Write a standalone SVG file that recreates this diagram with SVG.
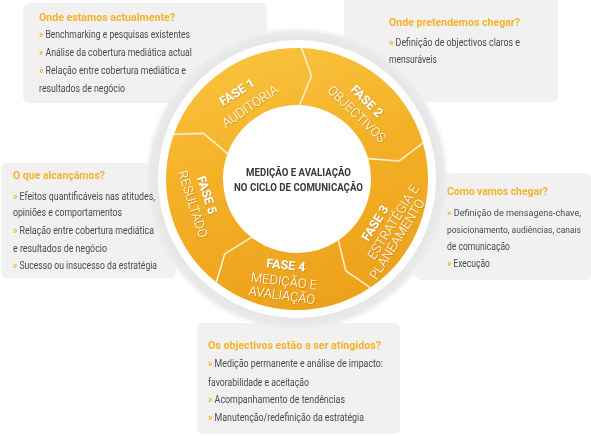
<svg xmlns="http://www.w3.org/2000/svg" width="591" height="436" viewBox="0 0 591 436">
<defs>
<style>
.box{fill:#f1f1f1;}
.t{font-family:Roboto,"Liberation Sans",sans-serif;font-weight:bold;font-size:11px;fill:#f6b22a;}
.b{font-family:Roboto,"Liberation Sans",sans-serif;font-size:10px;fill:#4a4a4a;}
.s{font-size:9px;}
.g{fill:#f4ae25;font-weight:bold;}
.seg{fill:url(#gold);}
.div{fill:none;stroke:#fbeed2;stroke-width:1.6;stroke-linejoin:round;}
.pf{font-family:Roboto,"Liberation Sans",sans-serif;font-weight:bold;font-size:12.5px;fill:#fff;text-anchor:middle;}
.pl{font-family:Roboto,"Liberation Sans",sans-serif;font-weight:300;font-size:13px;fill:#fff;text-anchor:middle;}
.c{font-family:Roboto,"Liberation Sans",sans-serif;font-weight:bold;font-size:10px;fill:#383838;text-anchor:middle;}
</style>
<linearGradient id="gold" gradientUnits="userSpaceOnUse" x1="260" y1="48" x2="330" y2="310">
<stop offset="0" stop-color="#f9c23c"/>
<stop offset="0.5" stop-color="#f3ae24"/>
<stop offset="1" stop-color="#eca11a"/>
</linearGradient>
<radialGradient id="halo" gradientUnits="userSpaceOnUse" cx="297" cy="179" r="153">
<stop offset="0.88" stop-color="#e4e4e4"/>
<stop offset="0.96" stop-color="#eaeaea"/>
<stop offset="1" stop-color="#f3f3f3" stop-opacity="0"/>
</radialGradient>
<filter id="sh" x="-20%" y="-20%" width="140%" height="140%">
<feDropShadow dx="0.6" dy="0.8" stdDeviation="0.6" flood-color="#9a6200" flood-opacity="0.55"/>
</filter>
</defs>

<rect width="591" height="436" fill="#ffffff"/>

<g id="box-auditoria">
<rect class="box" x="23" y="3" width="244" height="100" rx="6"/>
</g>
<g id="box-objectivos">
<rect class="box" x="344" y="-6" width="214" height="108" rx="6"/>
</g>
<g id="box-resultado">
<rect class="box" x="1" y="163" width="175" height="115" rx="6"/>
</g>
<g id="box-estrategia">
<rect class="box" x="415" y="173" width="176" height="107" rx="6"/>
</g>
<g id="box-medicao">
<rect class="box" x="197" y="323" width="203" height="111" rx="6"/>
</g>

<g id="ring-back">
<circle cx="297" cy="179" r="153" fill="url(#halo)"/>
<circle cx="297" cy="179" r="139" fill="#ffffff"/>
</g>

<g id="phase-1">
<path class="seg" d="M 173.90 134.20 A 131 131 0 0 1 301.57 48.08 L 311.47 76.01 L 299.58 105.05 A 74 74 0 0 0 227.46 153.69 L 203.52 133.41 Z"/>
</g>
<g id="phase-2">
<path class="seg" d="M 301.57 48.08 A 131 131 0 0 1 422.93 142.89 L 399.42 160.94 L 368.13 158.60 A 74 74 0 0 0 299.58 105.05 L 311.47 76.01 Z"/>
</g>
<g id="phase-3">
<path class="seg" d="M 422.93 142.89 A 131 131 0 0 1 370.25 287.60 L 345.83 270.83 L 338.38 240.35 A 74 74 0 0 0 368.13 158.60 L 399.42 160.94 Z"/>
</g>
<g id="phase-4">
<path class="seg" d="M 370.25 287.60 A 131 131 0 0 1 216.35 282.23 L 224.76 253.81 L 251.44 237.31 A 74 74 0 0 0 338.38 240.35 L 345.83 270.83 Z"/>
</g>
<g id="phase-5">
<path class="seg" d="M 216.35 282.23 A 131 131 0 0 1 173.90 134.20 L 203.52 133.41 L 227.46 153.69 A 74 74 0 0 0 251.44 237.31 L 224.76 253.81 Z"/>
</g>

<g id="connectors">
<path class="div" d="M 301.57 48.08 L 311.47 76.01 L 299.58 105.05"/>
<path class="div" d="M 422.93 142.89 L 399.42 160.94 L 368.13 158.60"/>
<path class="div" d="M 370.25 287.60 L 345.83 270.83 L 338.38 240.35"/>
<path class="div" d="M 216.35 282.23 L 224.76 253.81 L 251.44 237.31"/>
<path class="div" d="M 173.90 134.20 L 203.52 133.41 L 227.46 153.69"/>
</g>

<g id="phase-labels" filter="url(#sh)">
<text class="pf" transform="translate(237,92) rotate(-33)" y="4.4">FASE 1</text>
<text class="pl" transform="translate(250,106) rotate(-34)" y="4.6">AUDITORIA</text>
<text class="pf" transform="translate(367,101) rotate(45)" y="4.4">FASE 2</text>
<text class="pl" transform="translate(357,114) rotate(44)" y="4.6">OBJECTIVOS</text>
<text class="pf" transform="translate(375,223) rotate(-58)" y="4.4">FASE 3</text>
<text class="pl" transform="translate(393,222) rotate(-58)" y="4.6">ESTRATÉGIA E</text>
<text class="pl" transform="translate(397,239) rotate(-58)" y="4.6">PLANEAMENTO</text>
<text class="pf" transform="translate(286,265) rotate(6)" y="4.4">FASE 4</text>
<text class="pl" transform="translate(284,281) rotate(7)" y="4.6">MEDIÇÃO E</text>
<text class="pl" transform="translate(282,295) rotate(8)" y="4.6">AVALIAÇÃO</text>
<text class="pf" transform="translate(207,195) rotate(72)" y="4.4">FASE 5</text>
<text class="pl" transform="translate(193,204) rotate(72)" y="4.6">RESULTADO</text>
</g>

<g id="center">
<circle cx="297" cy="179" r="73" fill="#ffffff"/>
<text class="c" x="298.5" y="175.5" textLength="105" lengthAdjust="spacingAndGlyphs">MEDIÇÃO E AVALIAÇÃO</text>
<text class="c" x="298.5" y="191" textLength="129" lengthAdjust="spacingAndGlyphs">NO CICLO DE COMUNICAÇÃO</text>
</g>

<g id="text-auditoria">
<text class="t" x="39" y="21" textLength="136" lengthAdjust="spacingAndGlyphs">Onde estamos actualmente?</text>
<text class="b" x="39" y="38" textLength="151" lengthAdjust="spacingAndGlyphs"><tspan class="g">»</tspan> Benchmarking e pesquisas existentes</text>
<text class="b" x="39" y="56" textLength="153" lengthAdjust="spacingAndGlyphs"><tspan class="g">»</tspan> Análise da cobertura mediática actual</text>
<text class="b" x="39" y="74" textLength="147" lengthAdjust="spacingAndGlyphs"><tspan class="g">»</tspan> Relação entre cobertura mediática e</text>
<text class="b" x="39" y="92" textLength="86" lengthAdjust="spacingAndGlyphs">resultados de negócio</text>
</g>
<g id="text-objectivos">
<text class="t" x="389" y="26" textLength="131" lengthAdjust="spacingAndGlyphs">Onde pretendemos chegar?</text>
<text class="b" x="389" y="46" textLength="131" lengthAdjust="spacingAndGlyphs"><tspan class="g">»</tspan> Definição de objectivos claros e</text>
<text class="b" x="389" y="63" textLength="48" lengthAdjust="spacingAndGlyphs">mensuráveis</text>
</g>
<g id="text-resultado">
<text class="t" x="13" y="178.5" textLength="92" lengthAdjust="spacingAndGlyphs">O que alcançámos?</text>
<text class="b" x="13" y="199.5" textLength="142" lengthAdjust="spacingAndGlyphs"><tspan class="g">»</tspan> Efeitos quantificáveis nas atitudes,</text>
<text class="b" x="13" y="215.5" textLength="109" lengthAdjust="spacingAndGlyphs">opiniões e comportamentos</text>
<text class="b" x="13" y="234" textLength="141" lengthAdjust="spacingAndGlyphs"><tspan class="g">»</tspan> Relação entre cobertura mediática</text>
<text class="b" x="13" y="251.5" textLength="94" lengthAdjust="spacingAndGlyphs">e resultados de negócio</text>
<text class="b" x="13" y="269" textLength="144" lengthAdjust="spacingAndGlyphs"><tspan class="g">»</tspan> Sucesso ou insucesso da estratégia</text>
</g>
<g id="text-estrategia">
<text class="t" x="447" y="195" textLength="101" lengthAdjust="spacingAndGlyphs">Como vamos chegar?</text>
<text class="b s" x="447" y="216" textLength="134" lengthAdjust="spacingAndGlyphs"><tspan class="g">»</tspan> Definição de mensagens-chave,</text>
<text class="b s" x="447" y="233" textLength="134" lengthAdjust="spacingAndGlyphs">posicionamento, audiências, canais</text>
<text class="b" x="447" y="250" textLength="63" lengthAdjust="spacingAndGlyphs">de comunicação</text>
<text class="b" x="447" y="267" textLength="43" lengthAdjust="spacingAndGlyphs"><tspan class="g">»</tspan> Execução</text>
</g>
<g id="text-medicao">
<text class="t" x="208" y="348.5" textLength="173" lengthAdjust="spacingAndGlyphs">Os objectivos estão a ser atingidos?</text>
<text class="b" x="208" y="367" textLength="175" lengthAdjust="spacingAndGlyphs"><tspan class="g">»</tspan> Medição permanente e análise de impacto:</text>
<text class="b" x="208" y="385.5" textLength="101" lengthAdjust="spacingAndGlyphs">favorabilidade e aceitação</text>
<text class="b" x="208" y="403" textLength="137" lengthAdjust="spacingAndGlyphs"><tspan class="g">»</tspan> Acompanhamento de tendências</text>
<text class="b" x="208" y="420.5" textLength="156" lengthAdjust="spacingAndGlyphs"><tspan class="g">»</tspan> Manutenção/redefinição da estratégia</text>
</g>
</svg>
